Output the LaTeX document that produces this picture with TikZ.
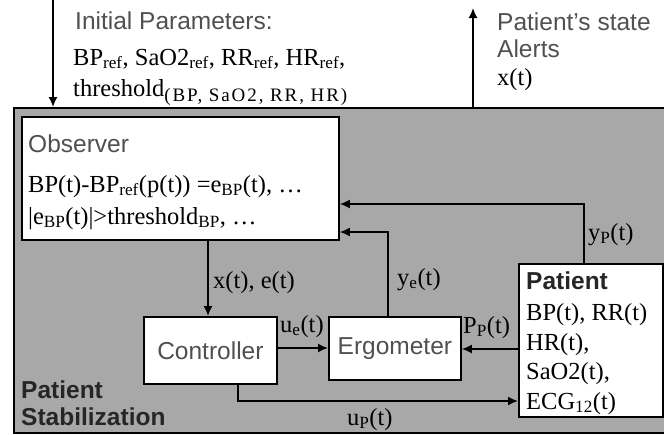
\documentclass[tikz,border=0pt]{standalone}
\usepackage{fontspec}
\setmainfont{Liberation Serif}
\setsansfont{Liberation Sans}
\usetikzlibrary{arrows.meta}
\definecolor{bggray}{HTML}{A8A8A8}
\definecolor{lblgray}{HTML}{505050}
\newcommand\widesub[1]{\raisebox{-5pt}{\fontsize{19}{20}\selectfont\addfontfeature{LetterSpace=10}#1}}
\begin{document}
\begin{tikzpicture}[x=1pt,y=-1pt,
  blk/.style={draw=black,line width=1.8pt,fill=white,inner sep=0pt},
  conn/.style={line width=1.6pt,-{Latex[length=10pt,width=9pt]}},
  sf/.style={font=\sffamily\fontsize{24.5}{28}\selectfont,text=lblgray,inner sep=0pt},
  sfb/.style={font=\sffamily\bfseries\fontsize{24.5}{28}\selectfont,text=black!85,inner sep=0pt},
  sr/.style={font=\fontsize{24.5}{28}\selectfont,inner sep=0pt},
]
\useasboundingbox (0,0) rectangle (664,434);
% background block
\node[draw=black,line width=1.8pt,fill=bggray,minimum width=660pt,minimum height=325pt,anchor=north west,inner sep=0pt] (stab) at (13,107) {};
% boxes
\node[blk,minimum width=317pt,minimum height=123pt,anchor=north west] (obs) at (21,116) {};
\node[blk,sf,minimum width=133pt,minimum height=67pt,anchor=north west] (ctrl) at (143,316) {Controller};
\node[blk,sf,minimum width=132pt,minimum height=63pt,anchor=north west] (erg) at (328,316) {Ergometer};
\node[blk,minimum width=144pt,minimum height=153pt,anchor=north west] (pat) at (518,263) {};
% observer text
\node[sf,anchor=base west] (obst) at (28,152) {Observer};
\node[sr,anchor=base west] (obs1) at (28,192) {BP(t)-BP\textsubscript{ref}(p(t)) =e\textsubscript{BP}(t), \dots};
\node[sr,anchor=base west] (obs2) at (28,224) {|e\textsubscript{BP}(t)|>threshold\textsubscript{BP}, \dots};
% patient text
\node[sfb,anchor=base west] (patt) at (526,289) {Patient};
\node[sr,anchor=base west] (pat1) at (526,320) {BP(t), RR(t)};
\node[sr,anchor=base west] (pat2) at (526,350) {HR(t),};
\node[sr,anchor=base west] (pat3) at (526,379) {SaO2(t),};
\node[sr,anchor=base west] (pat4) at (526,409) {ECG\textsubscript{12}(t)};
% stabilization label
\node[sfb,anchor=base west] (stab1) at (21,398) {Patient};
\node[sfb,anchor=base west] (stab2) at (21,425) {Stabilization};
% top texts
\node[sf,anchor=base west] (in1) at (75,29) {Initial Parameters:};
\node[sr,anchor=base west] (in2) at (73,65) {BP\textsubscript{ref}, SaO2\textsubscript{ref}, RR\textsubscript{ref}, HR\textsubscript{ref},};
\node[sr,anchor=base west] (in3) at (73,96) {threshold\widesub{(BP, SaO2, RR, HR)}};
\node[sf,anchor=base west] (out1) at (497,30) {Patient's state};
\node[sf,anchor=base west] (out2) at (497,57) {Alerts};
\node[sr,anchor=base west] (out3) at (497,85) {x(t)};
% outer connectors
\coordinate (inTop) at (53,0);
\coordinate (outTop) at (473,8);
\draw[conn] (inTop) -- (inTop |- stab.north);
\draw[conn] (outTop |- stab.north) -- (outTop);
% inner connectors
\draw[conn] (pat.north -| 584,0) -- (584,204) -- (obs.east |- 0,204);
\draw[conn] (erg.north -| 388,0) -- (388,232) -- (obs.east |- 0,232);
\draw[conn] (obs.south -| 208,0) -- (ctrl.north -| 208,0);
\draw[conn] (ctrl.east |- 0,348) -- (erg.west |- 0,348);
\draw[conn] (pat.west |- 0,349) -- (erg.east |- 0,349);
\draw[conn] (ctrl.south -| 238,0) -- (238,401) -- (pat.west |- 0,401);
% connector labels
\node[sr,anchor=base west] (lxe) at (213,288) {x(t), e(t)};
\node[sr,anchor=base west] (lye) at (397,285) {y\textsubscript{e}(t)};
\node[sr,anchor=base west] (lyp) at (588,240) {y\textsubscript{P}(t)};
\node[sr,anchor=base west] (lue) at (280,332) {u\textsubscript{e}(t)};
\node[sr,anchor=base west] (lpp) at (463,333) {P\textsubscript{P}(t)};
\node[sr,anchor=base west] (lup) at (347,425) {u\textsubscript{P}(t)};
\end{tikzpicture}
\end{document}
